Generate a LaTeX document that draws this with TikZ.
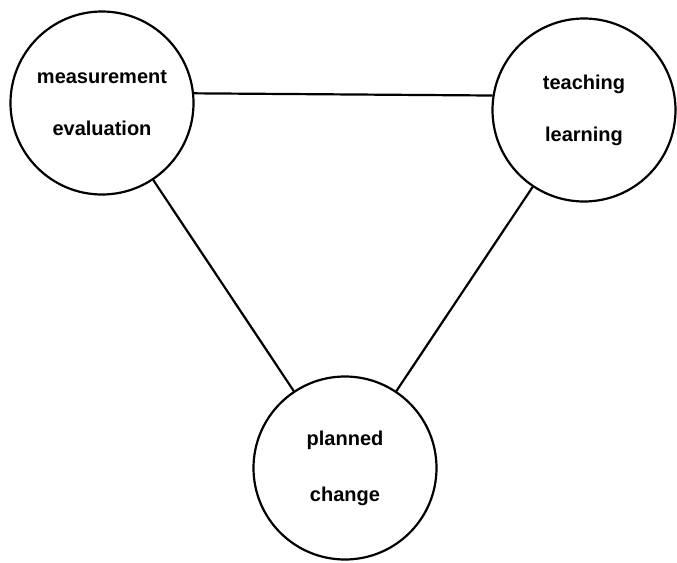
\documentclass[tikz,border=0pt]{standalone}
\usepackage{fontspec}
\setmainfont{Liberation Sans}
\usepackage{tikz}
\usetikzlibrary{positioning}

\begin{document}
\begin{tikzpicture}[x=1pt, y=-1pt,
    topic/.style={circle, draw, line width=2.2pt, minimum size=183pt, inner sep=0pt, align=center, font=\fontsize{20}{24}\selectfont\bfseries},
    link/.style={line width=2.2pt}
]
\useasboundingbox (0,0) rectangle (677,562);

\node[topic] (measure) at (102,103) {measurement\\[28pt]evaluation};
\node[topic] (teach) at (584,110) {teaching\\[28pt]learning};
\node[topic] (change) at (345,468) {planned\\[32pt]change};

\draw[link] (measure.6) -- (teach.171);
\draw[link] (measure) -- (change);
\draw[link] (teach) -- (change);

\end{tikzpicture}
\end{document}
